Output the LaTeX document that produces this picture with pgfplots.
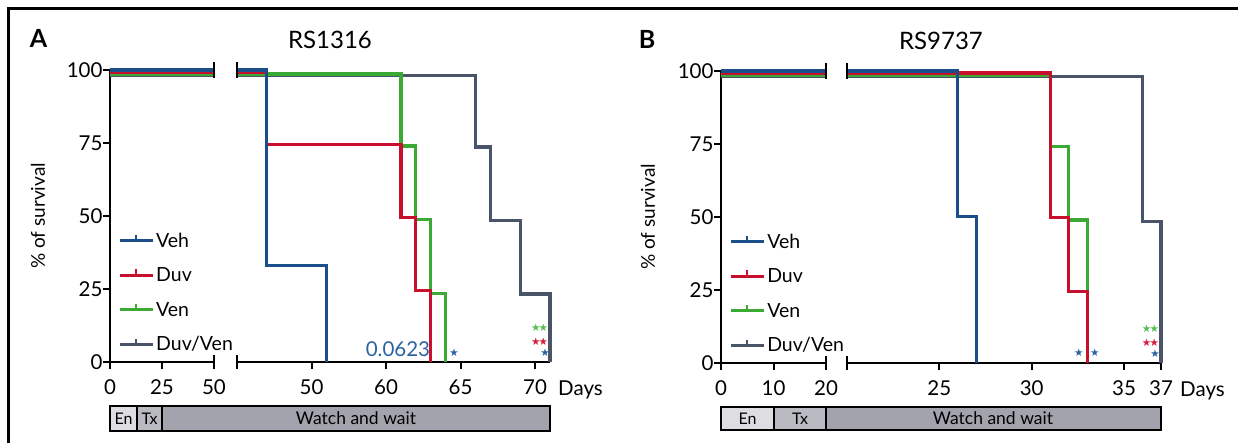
\documentclass[border=0pt]{standalone}
\usepackage{fontspec}
\setmainfont{Lato}
\newfontfamily\symfont{DejaVu Sans}
\usepackage{pgfplots}
\pgfplotsset{compat=1.18}

\definecolor{veh}{RGB}{27,79,138}
\definecolor{duv}{RGB}{200,16,46}
\definecolor{ven}{RGB}{58,170,53}
\definecolor{combo}{RGB}{74,84,104}
\definecolor{vehtxt}{RGB}{42,98,162}
\definecolor{stargreen}{RGB}{88,188,80}
\definecolor{starred}{RGB}{214,30,62}
\definecolor{enfill}{RGB}{222,222,226}
\definecolor{txfill}{RGB}{186,186,195}
\definecolor{wwfill}{RGB}{163,163,173}

\newcommand{\ticksize}{\fontsize{20.5}{23}\selectfont}
\newcommand{\starsize}{\symfont\fontsize{10.5}{11}\selectfont}
\newcommand{\twostars}{★\kern-1.8pt★}

\tikzset{
  brk/.style={line width=2pt, black},
  sig/.style={font=\starsize, inner sep=0pt},
}
\pgfplotsset{
  kmbase/.style={
    scale only axis, clip=false,
    height=292pt, ymin=0, ymax=100,
    tick align=outside, major tick length=7pt,
    axis line style={line width=2.2pt, black},
    tick style={line width=2pt, black},
    tick label style={font=\ticksize},
    xticklabel style={yshift=-7pt},
    yticklabel style={xshift=3pt},
    /pgf/number format/assume math mode=true,
  },
  kmleft/.style={kmbase, axis lines*=left, ytick={0,25,50,75,100},
    ylabel={\% of survival},
    ylabel style={font=\fontsize{19}{22}\selectfont, anchor=center},
    legend cell align=left,
    legend style={draw=none, fill=none, inner sep=0pt, anchor=north west,
      row sep=15pt, font=\fontsize{19.5}{22}\selectfont},
  },
  kmright/.style={kmbase, axis x line*=bottom, axis y line=none},
  km/.style={const plot, line width=3.2pt},
}

\newcommand{\legimg}[1]{\addlegendimage{legend image code/.code={%
  \draw[#1, line width=3pt] (0pt,0pt) -- (33pt,0pt);
  \draw[#1, line width=2pt] (16.5pt,0pt) -- (16.5pt,6pt);}}}

\begin{document}
\begin{tikzpicture}
\useasboundingbox (0pt,0pt) rectangle (1238pt,-443pt);
\draw[line width=2.6pt] (8.5pt,-443pt) -- (8.5pt,-8.3pt) -- (1238pt,-8.3pt);

% ---------- panel A ----------
\node[anchor=base, font=\bfseries\fontsize{25}{28}\selectfont] at (38.5pt,-48pt) {A};
\node[anchor=base, font=\fontsize{24}{27}\selectfont] at (330pt,-49pt) {RS1316};

\begin{axis}[kmleft, name=Aleft, at={(110pt,-362pt)}, anchor=south west,
  width=104pt, xmin=0, xmax=50, xtick={0,25,50},
  ylabel style={at={(axis description cs:-0.692,0.5)}},
  legend style={at={(axis description cs:0.077,0.45)}}]
\addplot[km, combo, forget plot] coordinates {(0,98) (50,98)};
\addplot[km, ven, forget plot] coordinates {(0,98.6) (50,98.6)};
\addplot[km, duv, forget plot] coordinates {(0,99.3) (50,99.3)};
\addplot[km, veh, forget plot] coordinates {(0,100) (50,100)};
\legimg{veh}\addlegendentry{Veh}
\legimg{duv}\addlegendentry{Duv}
\legimg{ven}\addlegendentry{Ven}
\legimg{combo}\addlegendentry{Duv/Ven}
\draw[brk] (axis cs:50,0) ++(0pt,-7pt) -- ++(0pt,14pt);
\draw[brk] (axis cs:50,100) ++(0pt,-8pt) -- ++(0pt,16pt);
\end{axis}

\begin{axis}[kmright, name=Aright, at={(237pt,-362pt)}, anchor=south west,
  width=313pt, xmin=50, xmax=71,
  xtick={55,60,65,70}, xticklabels={50,60,65,70}]
\addplot[km, combo] coordinates {(50,98) (66,73.6) (67,48.5) (69,23.3) (71,0)};
\addplot[km, ven] coordinates {(50,98.6) (61,74) (62,48.7) (63,23.4) (64,0)};
\addplot[km, duv] coordinates {(50,99.3) (52,74.4) (61,49.6) (62,24.4) (63,0)};
\addplot[km, veh] coordinates {(50,100) (52,33) (56,0)};
\draw[brk] (axis cs:50,0) ++(0pt,-7pt) -- ++(0pt,14pt);
\draw[brk] (axis cs:50,100) ++(0pt,-8pt) -- ++(0pt,16pt);
\node[text=vehtxt, font=\ticksize, inner sep=0pt] at (axis cs:60.8,4.3) {0.0623};
\node[sig, text=vehtxt] at (axis cs:64.56,3.1) {★};
\node[sig, text=stargreen] at (axis cs:70.3,11.7) {\twostars};
\node[sig, text=starred] at (axis cs:70.3,7.1) {\twostars};
\node[sig, text=vehtxt] at (axis cs:70.67,3.1) {★};
\node[anchor=base west, font=\ticksize, inner sep=0pt] at (axis cs:71,0) [xshift=8pt, yshift=-33pt] {Days};
\end{axis}

\draw[line width=2pt, fill=wwfill] (110pt,-406pt) rectangle (550pt,-431pt);
\draw[line width=2pt, fill=enfill] (110pt,-406pt) rectangle (137pt,-431pt);
\draw[line width=2pt, fill=txfill] (137pt,-406pt) rectangle (162pt,-431pt);
\node[font=\fontsize{16}{18}\selectfont] at (123.5pt,-418.5pt) {En};
\node[font=\fontsize{16}{18}\selectfont] at (149.5pt,-418.5pt) {Tx};
\node[font=\fontsize{17.5}{19}\selectfont] at (356pt,-418.5pt) {Watch and wait};

% ---------- panel B ----------
\node[anchor=base, font=\bfseries\fontsize{25}{28}\selectfont] at (647pt,-49pt) {B};
\node[anchor=base, font=\fontsize{24}{27}\selectfont] at (941pt,-50pt) {RS9737};

\begin{axis}[kmleft, name=Bleft, at={(721pt,-363pt)}, anchor=south west,
  width=105pt, xmin=0, xmax=20, xtick={0,10,20},
  ylabel style={at={(axis description cs:-0.695,0.5)}},
  legend style={at={(axis description cs:0.077,0.45)}}]
\addplot[km, combo, forget plot] coordinates {(0,98) (20,98)};
\addplot[km, ven, forget plot] coordinates {(0,98.6) (20,98.6)};
\addplot[km, duv, forget plot] coordinates {(0,99.3) (20,99.3)};
\addplot[km, veh, forget plot] coordinates {(0,100) (20,100)};
\legimg{veh}\addlegendentry{Veh}
\legimg{duv}\addlegendentry{Duv}
\legimg{ven}\addlegendentry{Ven}
\legimg{combo}\addlegendentry{Duv/Ven}
\draw[brk] (axis cs:20,0) ++(0pt,-7pt) -- ++(0pt,14pt);
\draw[brk] (axis cs:20,100) ++(0pt,-8pt) -- ++(0pt,16pt);
\end{axis}

\begin{axis}[kmright, name=Bright, at={(847pt,-363pt)}, anchor=south west,
  width=314pt, xmin=20, xmax=37, xtick={25,30,35,37}]
\addplot[km, combo] coordinates {(20,98.2) (36,48.4) (37,0)};
\addplot[km, ven] coordinates {(20,98.6) (31,74.1) (32,49) (33,0)};
\addplot[km, duv] coordinates {(20,99.3) (31,49.7) (32,24.4) (33,0)};
\addplot[km, veh] coordinates {(20,100) (26,50.3) (27,0)};
\draw[brk] (axis cs:20,0) ++(0pt,-7pt) -- ++(0pt,14pt);
\draw[brk] (axis cs:20,100) ++(0pt,-8pt) -- ++(0pt,16pt);
\node[sig, text=vehtxt] at (axis cs:32.55,3.4) {★};
\node[sig, text=vehtxt] at (axis cs:33.42,3.4) {★};
\node[sig, text=stargreen] at (axis cs:36.43,11.6) {\twostars};
\node[sig, text=starred] at (axis cs:36.43,7.1) {\twostars};
\node[sig, text=vehtxt] at (axis cs:36.68,3.3) {★};
\node[anchor=base west, font=\ticksize, inner sep=0pt] at (axis cs:37,0) [xshift=19pt, yshift=-33pt] {Days};
\end{axis}

\draw[line width=2pt, fill=wwfill] (721pt,-407pt) rectangle (1161pt,-430pt);
\draw[line width=2pt, fill=enfill] (721pt,-407pt) rectangle (774pt,-430pt);
\draw[line width=2pt, fill=txfill] (774pt,-407pt) rectangle (826pt,-430pt);
\node[font=\fontsize{16}{18}\selectfont] at (747.5pt,-418.5pt) {En};
\node[font=\fontsize{16}{18}\selectfont] at (800pt,-418.5pt) {Tx};
\node[font=\fontsize{17.5}{19}\selectfont] at (993pt,-418.5pt) {Watch and wait};
\end{tikzpicture}
\end{document}
